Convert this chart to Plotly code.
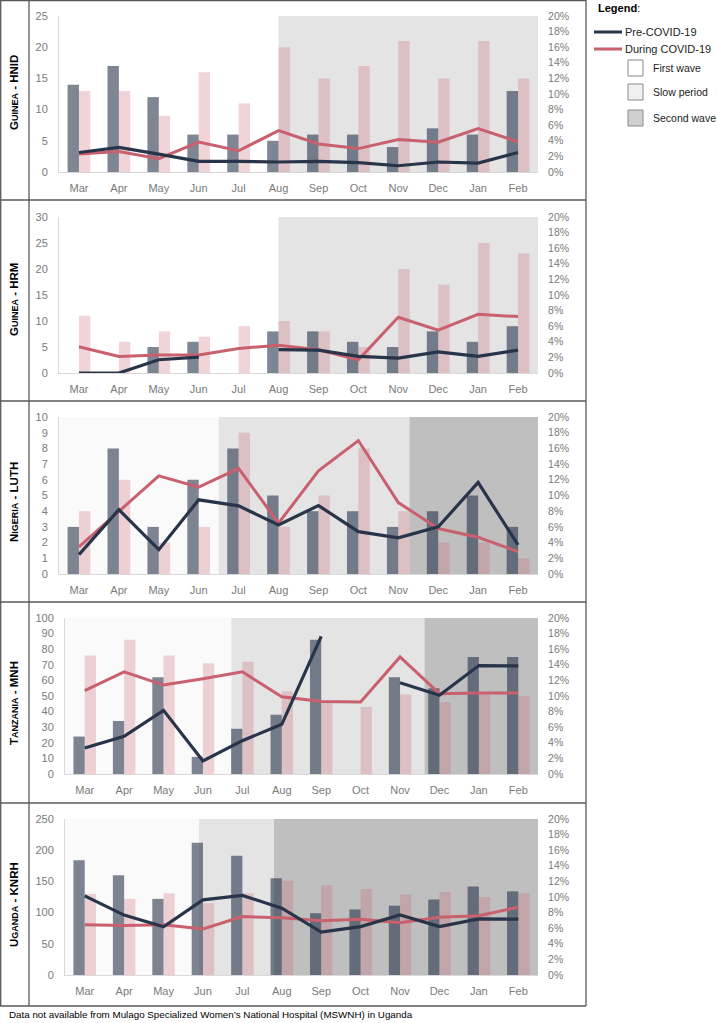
import plotly.graph_objects as go

W, H = 717, 1023
FONT = "Liberation Sans, Arial, Helvetica, sans-serif"

months = ["Mar", "Apr", "May", "Jun", "Jul", "Aug", "Sep", "Oct", "Nov", "Dec", "Jan", "Feb"]

site_labels = [
    "<b>G<span style='font-size:9px'>UINEA</span> - HNID</b>",
    "<b>G<span style='font-size:9px'>UINEA</span> - HRM</b>",
    "<b>N<span style='font-size:9px'>IGERIA</span> - LUTH</b>",
    "<b>T<span style='font-size:9px'>ANZANIA</span> - MNH</b>",
    "<b>U<span style='font-size:9px'>GANDA</span> - KNRH</b>",
]

# Counts (bars, left axis)
hnid_pre_n = [14, 17, 12, 6, 6, 5, 6, 6, 4, 7, 6, 13]
hnid_dur_n = [13, 13, 9, 16, 11, 20, 15, 17, 21, 15, 21, 15]
hrm_pre_n = [None, None, 5, 6, None, 8, 8, 6, 5, 8, 6, 9]
hrm_dur_n = [11, 6, 8, 7, 9, 10, 8, 5, 20, 17, 25, 23]
luth_pre_n = [3, 8, 3, 6, 8, 5, 4, 4, 3, 4, 5, 3]
luth_dur_n = [4, 6, 2, 3, 9, 3, 5, 8, 4, 2, 2, 1]
mnh_pre_n = [24, 34, 62, 11, 29, 38, 86, None, 62, 55, 75, 75]
mnh_dur_n = [76, 86, 76, 71, 72, 53, 46, 43, 51, 46, 51, 50]
knrh_pre_n = [184, 160, 122, 212, 191, 155, 99, 105, 111, 121, 142, 134]
knrh_dur_n = [130, 122, 131, 115, 131, 151, 144, 138, 129, 133, 125, 131]

# Rates in % (lines, right axis)
hnid_pre_pct = [2.5, 3.15, 2.3, 1.36, 1.36, 1.28, 1.36, 1.19, 0.8, 1.28, 1.15, 2.5]
hnid_dur_pct = [2.3, 2.64, 1.7, 3.83, 2.72, 5.3, 3.6, 3.0, 4.17, 3.83, 5.57, 3.87]
hrm_pre_pct = [0, 0, 1.7, 2.04, None, 3.0, 2.94, 2.13, 1.9, 2.7, 2.13, 2.94]
hrm_dur_pct = [3.36, 2.13, 2.3, 2.3, 3.15, 3.57, 2.98, 1.7, 7.15, 5.5, 7.53, 7.23]
luth_pre_pct = [2.47, 8.2, 3.1, 9.45, 8.68, 6.26, 8.72, 5.4, 4.6, 6.0, 11.66, 3.7]
luth_dur_pct = [3.45, 8.04, 12.5, 11.06, 13.45, 6.47, 13.15, 17.0, 9.1, 5.8, 4.68, 2.85]
mnh_pre_pct = [3.33, 4.83, 8.16, 1.67, 4.27, 6.37, 17.65, None, 11.7, 10.1, 13.9, 13.85]
mnh_dur_pct = [10.7, 13.1, 11.4, 12.2, 13.1, 9.9, 9.3, 9.23, 15.0, 10.3, 10.4, 10.4]
knrh_pre_pct = [10.15, 7.68, 6.18, 9.64, 10.2, 8.57, 5.5, 6.2, 7.7, 6.2, 7.2, 7.16]
knrh_dur_pct = [6.44, 6.35, 6.44, 5.9, 7.5, 7.33, 6.95, 7.16, 6.7, 7.4, 7.6, 8.7]

left_max = [25, 30, 10, 100, 250]
left_dtick = [5, 5, 1, 10, 50]

# Wave periods (in month-index units): (start, end, kind)
periods = [
    [(5, 11.5, "slow")],
    [(5, 11.5, "slow")],
    [(-0.5, 3.5, "first"), (3.5, 8.28, "slow"), (8.28, 11.5, "second")],
    [(-0.5, 3.72, "first"), (3.72, 8.62, "slow"), (8.62, 11.5, "second")],
    [(-0.5, 2.9, "first"), (2.9, 4.8, "slow"), (4.8, 11.5, "second")],
]

pre_n = [hnid_pre_n, hrm_pre_n, luth_pre_n, mnh_pre_n, knrh_pre_n]
dur_n = [hnid_dur_n, hrm_dur_n, luth_dur_n, mnh_dur_n, knrh_dur_n]
pre_pct = [hnid_pre_pct, hrm_pre_pct, luth_pre_pct, mnh_pre_pct, knrh_pre_pct]
dur_pct = [hnid_dur_pct, hrm_dur_pct, luth_dur_pct, mnh_dur_pct, knrh_dur_pct]

NAVY = "#283449"
NAVY_BAR = "rgba(40,52,75,0.6)"
PINK = "#c8606e"
PINK_BAR = "rgba(200,96,110,0.27)"
WAVE_FILL = {"first": "#fafafa", "slow": "#e4e4e4", "second": "#bfbfbf"}

# Panel geometry in pixels
panels_px = [  # (x0, x1, ytop, ybottom)
    (59, 538, 16, 172),
    (59, 538, 217, 373),
    (59, 538, 417, 574),
    (65, 538, 618, 774),
    (65, 538, 819, 975),
]
label_y = [93, 300, 502, 703, 905]


def px(x):
    return x / W


def py(y):
    return 1 - y / H


fig = go.Figure()
layout = dict(
    width=W, height=H, autosize=False,
    margin=dict(l=0, r=0, t=0, b=0, pad=0),
    paper_bgcolor="white", plot_bgcolor="white",
    showlegend=False, barmode="group", bargap=0.43, bargroupgap=0,
    font=dict(family=FONT, size=11, color="#7a7a7a"),
    hovermode=False,
)
shapes = []
annotations = []

for i in range(5):
    k = i + 1
    xa = "x" if k == 1 else f"x{k}"
    ya = "y" if k == 1 else f"y{2 * k - 1}"
    ya2 = f"y{2 * k}"
    xkey = "xaxis" if k == 1 else f"xaxis{k}"
    ykey = "yaxis" if k == 1 else f"yaxis{2 * k - 1}"
    y2key = f"yaxis{2 * k}"
    x0, x1, yt, yb = panels_px[i]

    layout[xkey] = dict(
        domain=[px(x0), px(x1)], anchor=ya, type="category", automargin=False,
        range=[-0.5, 11.5], showline=True, linecolor="#d9d9d9", linewidth=1,
        showgrid=False, ticks="outside", ticklen=6, tickcolor="rgba(0,0,0,0)",
        tickfont=dict(size=11, color="#7a7a7a", family=FONT),
        categoryorder="array", categoryarray=months,
    )
    layout[ykey] = dict(
        domain=[py(yb), py(yt)], anchor=xa, range=[0, left_max[i]], automargin=False,
        dtick=left_dtick[i], showgrid=False, zeroline=False,
        showline=True, linecolor="#d9d9d9", linewidth=1,
        ticks="outside", ticklen=8, tickcolor="rgba(0,0,0,0)",
        tickfont=dict(size=11, color="#7a7a7a", family=FONT),
    )
    layout[y2key] = dict(
        overlaying=ya, anchor=xa, side="right", range=[0, 20], dtick=2,
        automargin=False,
        ticksuffix="%", showgrid=False, zeroline=False, showline=False,
        ticks="outside", ticklen=7, tickcolor="rgba(0,0,0,0)",
        tickfont=dict(size=10.5, color="#7a7a7a", family=FONT),
    )

    for (s, e, kind) in periods[i]:
        shapes.append(dict(
            type="rect", xref=xa, yref=f"{ya} domain", x0=s, x1=e, y0=0, y1=1,
            fillcolor=WAVE_FILL[kind], line=dict(width=0), layer="below",
        ))

    fig.add_trace(go.Bar(x=months, y=pre_n[i], marker_color=NAVY_BAR,
                         marker_line_width=0, xaxis=xa, yaxis=ya,
                         offsetgroup="pre", name="Pre-COVID-19"))
    fig.add_trace(go.Bar(x=months, y=dur_n[i], marker_color=PINK_BAR,
                         marker_line_width=0, xaxis=xa, yaxis=ya,
                         offsetgroup="dur", name="During COVID-19"))
    fig.add_trace(go.Scatter(x=months, y=dur_pct[i], mode="lines",
                             line=dict(color=PINK, width=3), xaxis=xa, yaxis=ya2,
                             connectgaps=False))
    fig.add_trace(go.Scatter(x=months, y=pre_pct[i], mode="lines",
                             line=dict(color=NAVY, width=3.2), xaxis=xa, yaxis=ya2,
                             connectgaps=False))

    annotations.append(dict(
        text=site_labels[i], xref="paper", yref="paper", x=px(14), y=py(label_y[i]),
        textangle=-90, showarrow=False, xanchor="center", yanchor="middle",
        font=dict(size=11.5, color="black", family=FONT),
    ))

# Table frame
BORDER = "#5a5a5a"
row_lines = [0.7, 200, 401, 602, 803, 1006]
for yv in row_lines:
    shapes.append(dict(type="line", xref="paper", yref="paper",
                       x0=px(0), x1=px(586), y0=py(yv), y1=py(yv),
                       line=dict(color=BORDER, width=1.3)))
for xv in [0.7, 29, 586]:
    shapes.append(dict(type="line", xref="paper", yref="paper",
                       x0=px(xv), x1=px(xv), y0=py(0), y1=py(1006),
                       line=dict(color=BORDER, width=1.3)))

# Legend (manual)
annotations.append(dict(text="<b>Legend</b>:", xref="paper", yref="paper",
                        x=px(596), y=py(8), xanchor="left", yanchor="middle",
                        showarrow=False, font=dict(size=11, color="black", family=FONT)))
legend_lines = [("Pre-COVID-19", NAVY, 32), ("During COVID-19", PINK, 49)]
for name, col, yv in legend_lines:
    shapes.append(dict(type="line", xref="paper", yref="paper",
                       x0=px(594), x1=px(622), y0=py(yv), y1=py(yv),
                       line=dict(color=col, width=3)))
    annotations.append(dict(text=name, xref="paper", yref="paper",
                            x=px(623), y=py(yv), xanchor="left", yanchor="middle",
                            showarrow=False, font=dict(size=11, color="#222", family=FONT)))
legend_boxes = [("First wave", "#ffffff", 68), ("Slow period", "#f0f0f0", 92),
                ("Second wave", "#d0d0d0", 118)]
for name, col, yc in legend_boxes:
    shapes.append(dict(type="rect", xref="paper", yref="paper",
                       x0=px(628), x1=px(643), y0=py(yc + 8), y1=py(yc - 8),
                       fillcolor=col, line=dict(color="#8a8a8a", width=1)))
    annotations.append(dict(text=name, xref="paper", yref="paper",
                            x=px(651), y=py(yc), xanchor="left", yanchor="middle",
                            showarrow=False, font=dict(size=10.5, color="#222", family=FONT)))

# Footnote
annotations.append(dict(
    text="Data not available from Mulago Specialized Women\u2019s National Hospital (MSWNH) in Uganda",
    xref="paper", yref="paper", x=px(7), y=py(1014), xanchor="left", yanchor="middle",
    showarrow=False, font=dict(size=9.8, color="black", family=FONT)))

layout["shapes"] = shapes
layout["annotations"] = annotations
fig.update_layout(**layout)
fig.write_html(
    "out.html",
    config={"displayModeBar": False, "responsive": False},
    post_script="document.body.style.margin='0px';document.body.style.padding='0px';"
                "document.documentElement.style.overflow='hidden';",
)
